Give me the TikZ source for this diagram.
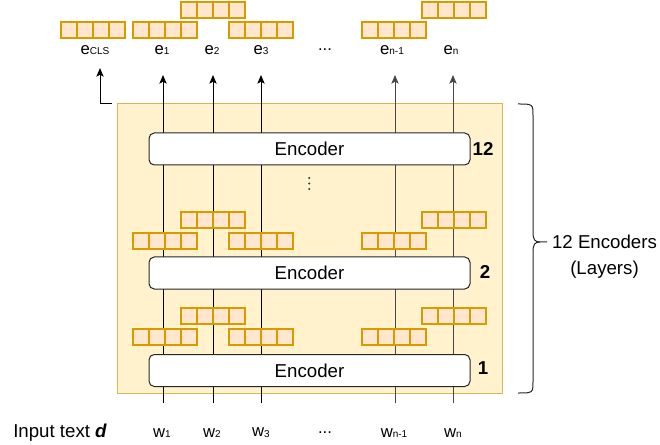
\documentclass[tikz,border=0pt]{standalone}
\usepackage{fontspec}
\setmainfont{Liberation Sans}
\usetikzlibrary{arrows.meta,calc}
\definecolor{panelfill}{HTML}{FFF2CC}
\definecolor{paneldraw}{HTML}{D6B656}
\definecolor{vecfill}{HTML}{FFE6CC}
\definecolor{vecdraw}{HTML}{D79B00}
% token with a small subscript index
\newcommand\tok[2]{#1\raisebox{-0.6pt}{\fontsize{7.5}{8}\selectfont #2}}
% four-cell embedding vector: box plus three cell dividers
\newcommand\embvec[2]{%
  \node[vecbox] (#1) at (#2) {};
  \foreach \k in {1,2,3}
    \draw[vecline] ($(#1.south west)!\k/4!(#1.south east)$) -- ($(#1.north west)!\k/4!(#1.north east)$);
}
\begin{document}
\begin{tikzpicture}[x=0.75pt,y=-0.75pt,
  panel/.style={draw=paneldraw, fill=panelfill, line width=0.75pt,
    minimum width=288.75pt, minimum height=216.75pt, inner sep=0pt, outer sep=0pt},
  encbox/.style={draw=black!85, fill=white, line width=0.75pt, rounded corners=4pt,
    minimum width=240.75pt, minimum height=24pt, inner sep=0pt, outer sep=0pt,
    font=\fontsize{14}{16}\selectfont},
  vecbox/.style={draw=vecdraw, fill=vecfill, line width=1.1pt,
    minimum width=48pt, minimum height=12pt, inner sep=0pt, outer sep=0pt},
  vecline/.style={draw=vecdraw, line width=1.1pt},
  toklbl/.style={inner sep=0pt, font=\fontsize{12.5}{14}\selectfont},
  layernum/.style={inner sep=0pt, font=\fontsize{14}{16}\selectfont\bfseries},
  plain/.style={inner sep=0pt, font=\fontsize{14}{16}\selectfont},
  flow/.style={line width=0.75pt, -{Stealth[length=6.5pt,width=5.5pt,inset=1.5pt]}}
]
\useasboundingbox (0,0) rectangle (660,445);

% stack of encoders
\node[panel] (panel) at (309.5,248.5) {};

% token columns running through the stack
\foreach \i/\x/\c in {1/163/black, 2/213/black, 3/261/black, 4/395/black!72, 5/453/black!72}{
  \coordinate (in\i) at (\x,403);
  \coordinate (out\i) at (\x,75);
  \draw[flow, draw=\c, fill=\c] (in\i) -- (out\i);
}

% intermediate token vectors between layers 1 and 2
\embvec{a1}{165,337}
\embvec{a3}{261,337}
\embvec{a4}{394,337}
\embvec{a2}{213,316}
\embvec{a5}{454,316}
% intermediate token vectors between layers 2 and 12
\embvec{b1}{165,241}
\embvec{b3}{261,241}
\embvec{b4}{394,241}
\embvec{b2}{213,220}
\embvec{b5}{454,220}

% output token vectors
\embvec{vcls}{93,30}
\embvec{v1}{165,30}
\embvec{v2}{213,10}
\embvec{v3}{261,30}
\embvec{v4}{394,30}
\embvec{v5}{454,10}

% encoder layers
\node[encbox] (enc12) at (309.5,149) {Encoder};
\node[encbox] (enc2) at (309.5,273) {Encoder};
\node[encbox] (enc1) at (309.5,370.5) {Encoder};
\node[layernum] (n12) at (483,149) {12};
\node[layernum] (n2) at (485,272) {2};
\node[layernum] (n1) at (483,368) {1};

% vertical ellipsis for the hidden layers
\foreach \y in {178,183.5,189}
  \fill[black!80] (309.3,\y) circle[radius=1.1];

% output labels
\node[toklbl] (ecls) at (95,50) {\tok{e}{CLS}};
\node[toklbl] (e1) at (162,50) {\tok{e}{1}};
\node[toklbl] (e2) at (212,50) {\tok{e}{2}};
\node[toklbl] (e3) at (261,50) {\tok{e}{3}};
\node[toklbl] (edots) at (325,50) {...};
\node[toklbl] (e4) at (392,50) {\tok{e}{n-1}};
\node[toklbl] (e5) at (451,50) {\tok{e}{n}};

% CLS output taken from the stack
\coordinate (clstip) at (100,68);
\draw[flow] ([xshift=-3.75pt]panel.north west) -| (clstip);

% input labels
\node[plain, anchor=west] (intext) at (13,433) {Input text \textbf{\textit{d}}};
\node[toklbl] (w1) at (162,433) {\tok{w}{1}};
\node[toklbl] (w2) at (212,433) {\tok{w}{2}};
\node[toklbl] (w3) at (261,433) {\tok{w}{3}};
\node[toklbl] (wdots) at (325,433) {...};
\node[toklbl] (w4) at (394,433) {\tok{w}{n-1}};
\node[toklbl] (w5) at (453,433) {\tok{w}{n}};

% brace over all layers
\draw[line width=0.75pt, black!85]
  (518,104) .. controls (533,104) .. (533,116) -- (533,232)
  .. controls (533,240) and (535,242) .. (540,242) -- (547,242);
\draw[line width=0.75pt, black!85]
  (518,393) .. controls (533,393) .. (533,381) -- (533,252)
  .. controls (533,244) and (535,242) .. (540,242);
\node[plain, align=center, font=\fontsize{14}{19.5}\selectfont] (bracetxt) at (604.5,257) {12 Encoders\\(Layers)};
\end{tikzpicture}
\end{document}
